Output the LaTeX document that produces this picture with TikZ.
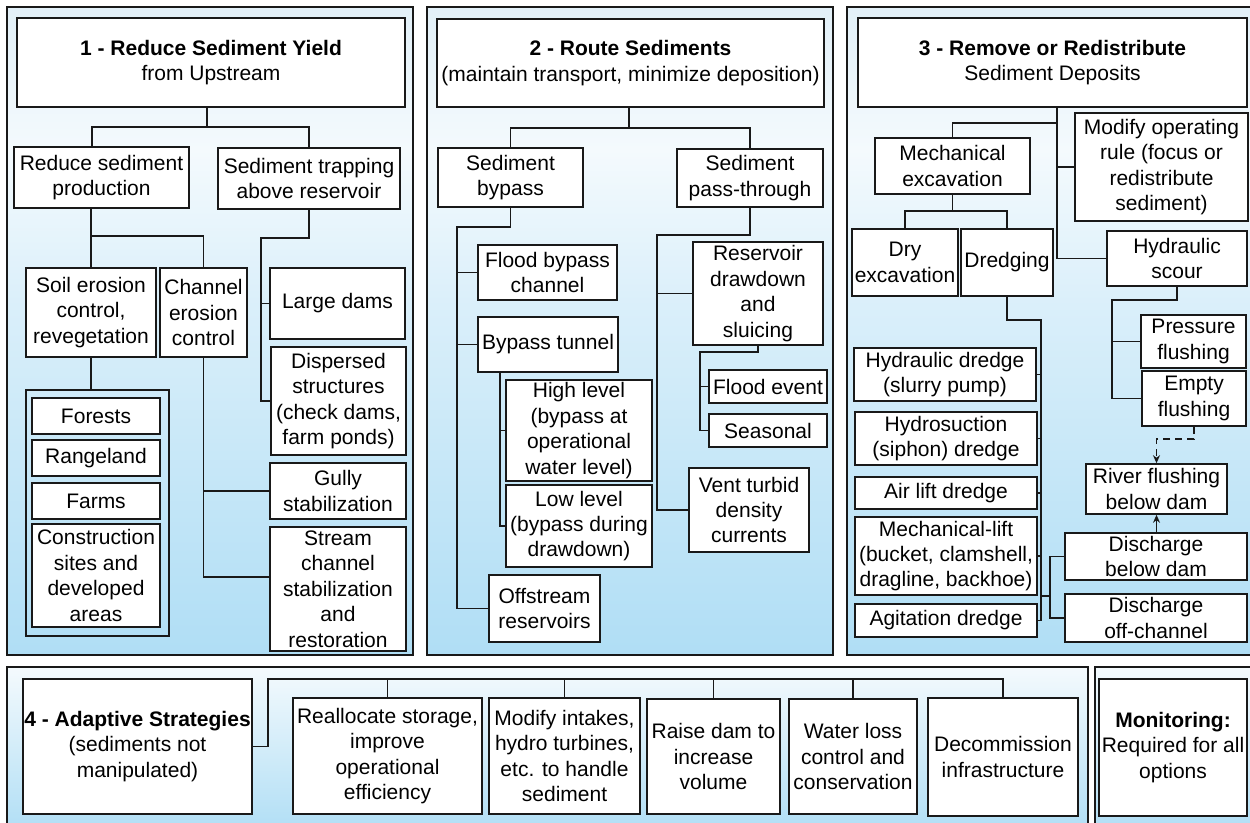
\documentclass[tikz,border=0pt]{standalone}
\usepackage{fontspec}
\setmainfont{Liberation Sans}
\usetikzlibrary{arrows.meta}
\definecolor{pb}{RGB}{176,222,245}
\definecolor{pm}{RGB}{218,239,250}
\definecolor{pw}{RGB}{244,250,253}
\definecolor{ptop}{RGB}{226,240,248}
\definecolor{edge}{RGB}{25,25,25}
\pgfdeclareverticalshading{panelshade}{100bp}{color(0bp)=(pb); color(25bp)=(pb); color(52bp)=(pm); color(64bp)=(pw); color(75bp)=(ptop); color(100bp)=(ptop)}
\pgfdeclareverticalshading{lowshade}{100bp}{color(0bp)=(pb); color(25bp)=(pb); color(75bp)=(pw); color(100bp)=(pw)}
\newcommand\boxfont{\fontsize{21}{25.4}\selectfont}
\tikzset{
  bbox/.style={draw=edge, fill=white, line width=1.6pt, inner sep=0pt, align=center, font=\boxfont},
  gbox/.style={draw=edge, line width=1.6pt, inner sep=0pt},
  conn/.style={draw=edge, line width=1.6pt},
  arr/.style={conn, -{Stealth[length=8pt,width=7pt]}},
  panel/.style={draw=edge, line width=2pt},
}
\newcommand\bx[6]{\node[bbox, minimum width={(#4-#2)*1pt}, minimum height={(#5-#3)*1pt}] (#1) at ({(#2+#4)/2},{(#3+#5)/2}) {#6};}
\newcommand\gx[5]{\node[gbox, minimum width={(#4-#2)*1pt}, minimum height={(#5-#3)*1pt}] (#1) at ({(#2+#4)/2},{(#3+#5)/2}) {};}
\begin{document}
\begin{tikzpicture}[x=1pt,y=-1pt]
\useasboundingbox (0,0) rectangle (1250,822);
\clip (0,0) rectangle (1250,822);
\fill[white] (0,0) rectangle (1250,822);
% panels
\shadedraw[shading=panelshade, panel] (7,7) rectangle (413,655);
\shadedraw[shading=panelshade, panel] (427,7) rectangle (833,655);
\shadedraw[shading=panelshade, panel] (847,7) rectangle (1262,655);
\shadedraw[shading=lowshade, panel] (7,667) rectangle (1088,832);
\shadedraw[shading=lowshade, panel] (1095,667) rectangle (1262,832);

% ---------- Panel 1 ----------
\bx{t1}{17}{18}{405}{107}{\textbf{1 - Reduce Sediment Yield}\\from Upstream}
\bx{rsp}{14}{147}{189}{208}{Reduce sediment\\production}
\bx{stab}{218}{148}{400}{209}{Sediment trapping\\above reservoir}
\bx{soil}{26}{268}{156}{357}{Soil erosion\\control,\\revegetation}
\bx{chan}{160}{268}{247}{357}{Channel\\erosion\\control}
\bx{large}{270}{268}{405}{339}{Large dams}
\bx{disp}{271}{347}{406}{455}{Dispersed\\structures\\(check dams,\\farm ponds)}
\gx{grp}{26}{390}{169}{636}
\bx{forest}{32}{398}{160}{434}{Forests}
\bx{range}{32}{440}{160}{476}{Rangeland}
\bx{farm}{32}{483}{160}{519}{Farms}
\bx{cons}{32}{524}{160}{627}{Construction\\sites and\\developed\\areas}
\bx{gully}{270}{463}{406}{519}{Gully\\stabilization}
\bx{sscs}{270}{527}{406}{651}{Stream\\channel\\stabilization\\and\\restoration}

\coordinate (b1) at (207,127);
\coordinate (b2) at (92,236);
\draw[conn] (t1.south -| b1) -- (b1);
\draw[conn] (rsp.north -| b2) |- (b1) -| (stab.north);
\draw[conn] (rsp.south -| soil.north) -- (soil.north);
\draw[conn] (b2 -| soil.north) -| (chan.north);
\draw[conn] (stab.south) -- (stab.south |- 0,238) -| (disp.west -| 261,0) -- (disp.west);
\draw[conn] (large.west -| 261,0) -- (large.west);
\draw[conn] (soil.south) -- (grp.north -| soil.south);
\draw[conn] (chan.south) -- (chan.south |- 0,577) -- (sscs.west |- 0,577);
\draw[conn] (chan.south |- gully.west) -- (gully.west);

% ---------- Panel 2 ----------
\bx{t2}{437}{19}{824}{107}{\textbf{2 - Route Sediments}\\(maintain transport, minimize deposition)}
\bx{byp}{438}{148}{583}{207}{Sediment\\bypass}
\bx{pt}{677}{149}{823}{207}{Sediment\\pass-through}
\bx{flood}{478}{245}{617}{300}{Flood bypass\\channel}
\bx{tun}{478}{317}{618}{372}{Bypass tunnel}
\bx{high}{506}{380}{652}{481}{High level\\(bypass at\\operational\\water level)}
\bx{low}{506}{485}{652}{567}{Low level\\(bypass during\\drawdown)}
\bx{off}{489}{575}{600}{642}{Offstream\\reservoirs}
\bx{rds}{693}{242}{823}{345}{Reservoir\\drawdown\\and\\sluicing}
\bx{fe}{709}{370}{827}{403}{Flood event}
\bx{seas}{709}{414}{827}{447}{Seasonal}
\bx{vent}{689}{468}{809}{552}{Vent turbid\\density\\currents}

\coordinate (b3) at (629,128);
\draw[conn] (t2.south -| b3) -- (b3);
\draw[conn] (byp.north) |- (pt.north |- b3) -- (pt.north);
\draw[conn] (byp.south) -- (byp.south |- 0,227) -| (off.west -| 457,0) -- (off.west);
\draw[conn] (flood.west -| 457,0) -- (flood.west);
\draw[conn] (tun.west -| 457,0) -- (tun.west);
\draw[conn] (tun.south -| 500,0) |- (low.west);
\draw[conn] (high.west -| 500,0) -- (high.west);
\draw[conn] (pt.south) -- (pt.south |- 0,235) -| (vent.west -| 657,0) -- (vent.west);
\draw[conn] (rds.west -| 657,0) -- (rds.west);
\draw[conn] (rds.south) -- (rds.south |- 0,352) -| (seas.west -| 700,0) -- (seas.west);
\draw[conn] (fe.west -| 700,0) -- (fe.west);

% ---------- Panel 3 ----------
\bx{t3}{858}{18}{1247}{107}{\textbf{3 - Remove or Redistribute}\\Sediment Deposits}
\bx{mech}{875}{138}{1030}{194}{Mechanical\\excavation}
\bx{mor}{1075}{113}{1248}{221}{Modify operating\\rule (focus or\\redistribute\\sediment)}
\bx{dry}{852}{229}{958}{296}{Dry\\excavation}
\bx{dred}{961}{229}{1053}{296}{Dredging}
\bx{hs}{1107}{231}{1247}{286}{Hydraulic\\scour}
\bx{pf}{1141}{315}{1246}{368}{Pressure\\flushing}
\bx{ef}{1142}{371}{1246}{426}{Empty\\flushing}
\bx{rfb}{1086}{464}{1227}{514}{River flushing\\below dam}
\bx{hyd}{854}{348}{1036}{401}{Hydraulic dredge\\(slurry pump)}
\bx{hsu}{855}{412}{1037}{465}{Hydrosuction\\(siphon) dredge}
\bx{air}{855}{477}{1037}{509}{Air lift dredge}
\bx{mlift}{855}{517}{1037}{595}{Mechanical-lift\\(bucket, clamshell,\\dragline, backhoe)}
\bx{agi}{855}{604}{1037}{637}{Agitation dredge}
\bx{dbd}{1065}{533}{1247}{580}{Discharge\\below dam}
\bx{doc}{1065}{594}{1247}{642}{Discharge\\off-channel}

\coordinate (b4) at (1057,123);
\draw[conn] (t3.south -| b4) |- (hs.west);
\draw[conn] (mech.north) |- (b4);
\draw[conn] (mor.west -| b4) -- (mor.west);
\draw[conn] (mech.south) -- (mech.south |- 0,211);
\draw[conn] (dry.north) |- (dred.north |- 0,211) -- (dred.north);
\draw[conn] (dred.south) -- (dred.south |- 0,320) -| (agi.east -| 1041,0) -- (agi.east);
\foreach \n in {hyd,hsu,air,mlift}{\draw[conn] (\n.east -| 1041,0) -- (\n.east);}
\draw[conn] (mlift.south -| 1041,0) -- (mlift.south -| 1050,0);
\draw[conn] (dbd.west) -| (doc.west -| 1050,0) -- (doc.west);
\draw[arr] (rfb.south |- dbd.north) -- (rfb.south);
\draw[arr, dash pattern=on 7pt off 5pt] (ef.south) -- (ef.south |- 0,439) -| (rfb.north);
\draw[conn] (hs.south) -- (hs.south |- 0,300) -| (ef.west -| 1112,0) -- (ef.west);
\draw[conn] (pf.west -| 1112,0) -- (pf.west);

% ---------- Panel 4 ----------
\bx{ad}{23}{679}{252}{814}{\textbf{4 - Adaptive Strategies}\\(sediments not\\manipulated)}
\bx{rea}{293}{698}{482}{814}{Reallocate storage,\\improve\\operational\\efficiency}
\bx{mi}{489}{698}{640}{814}{Modify intakes,\\hydro turbines,\\etc. to handle\\sediment}
\bx{raise}{647}{699}{780}{814}{Raise dam to\\increase\\volume}
\bx{water}{789}{699}{917}{814}{Water loss\\control and\\conservation}
\bx{dec}{928}{698}{1078}{816}{Decommission\\infrastructure}
\bx{mon}{1099}{679}{1247}{816}{\textbf{Monitoring:}\\Required for all\\options}

\coordinate (b5) at (268,679);
\draw[conn] (ad.east) -| (b5) -| (dec.north);
\foreach \n in {rea,mi,raise,water}{\draw[conn] (\n.north) -- (\n.north |- b5);}
\end{tikzpicture}
\end{document}
